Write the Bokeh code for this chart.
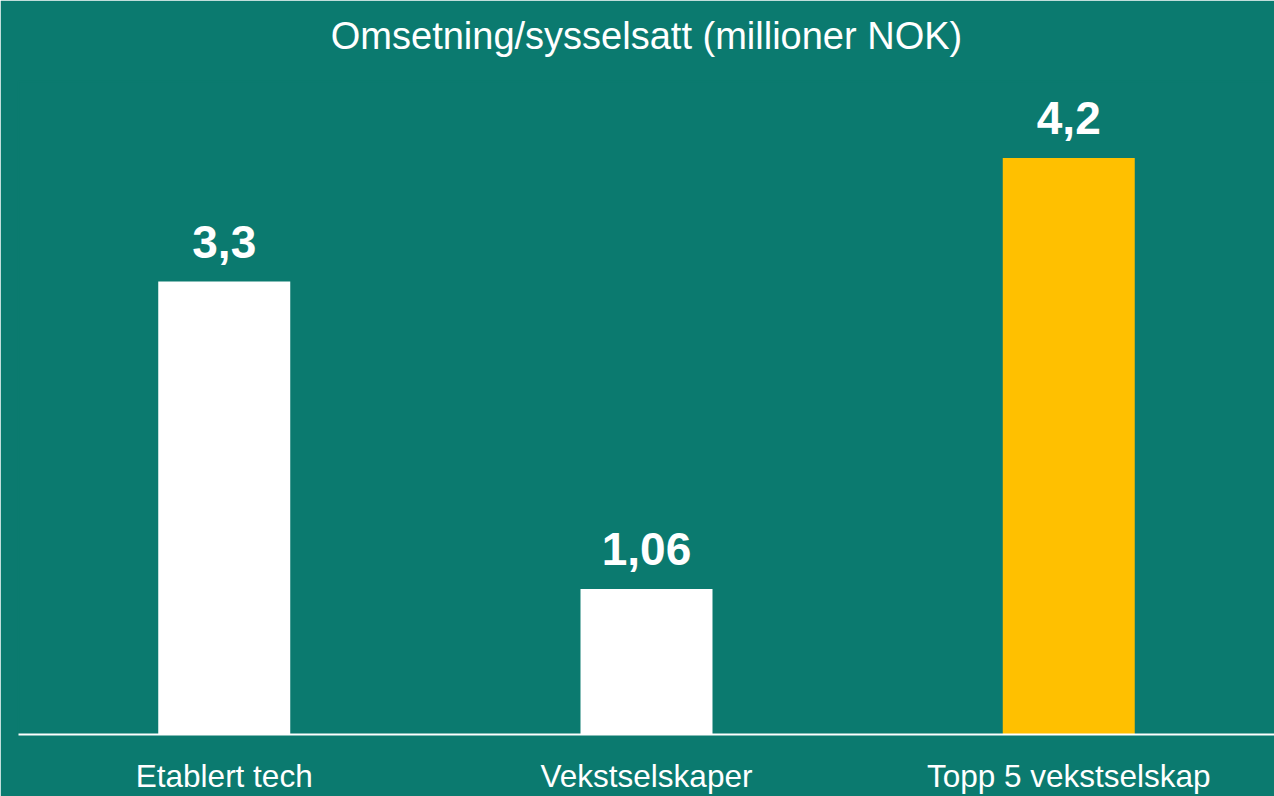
from bokeh.plotting import figure
from bokeh.models import ColumnDataSource, LabelSet, FactorRange, Range1d, Title
from bokeh.core.properties import value
from bokeh.embed import file_html
from bokeh.resources import INLINE

categories = ["Etablert tech", "Vekstselskaper", "Topp 5 vekstselskap"]
values = [3.3, 1.06, 4.2]
value_labels = ["3,3", "1,06", "4,2"]
colors = ["#FFFFFF", "#FFFFFF", "#FFC000"]

BG = "#0B7A6F"
FONT = "Liberation Sans"

src = ColumnDataSource(dict(cat=categories, val=values, lab=value_labels, col=colors))

p = figure(
    x_range=FactorRange(*categories, range_padding=-0.0085),
    y_range=Range1d(0, 4.757),
    width=1274, height=796,
    output_backend="svg", toolbar_location=None,
    title="Omsetning/sysselsatt (millioner NOK)",
    min_border_left=18, min_border_right=0, min_border_top=80, min_border_bottom=0,
)
p.background_fill_color = BG
p.border_fill_color = BG
p.outline_line_color = BG
p.outline_line_width = 2
p.grid.visible = False

p.title.align = "center"
p.title.text_font = FONT
p.title.text_font_size = "38px"
p.title.text_font_style = "normal"
p.title.text_color = "white"
p.title.standoff = 24

# spacer between title and plot area
p.add_layout(Title(text=" ", text_font_size="1px", standoff=10, text_color=BG), "above")

p.vbar(x="cat", top="val", width=0.3126, color="col", line_color=None, source=src)

labels = LabelSet(x="cat", y="val", text="lab", source=src, text_align="center",
                  text_baseline="alphabetic", y_offset=24,
                  text_font=value(FONT), text_font_size="46px", text_font_style="bold",
                  text_color="white")
p.add_layout(labels)

p.yaxis.visible = False
ax = p.xaxis[0]
ax.axis_line_color = "white"
ax.axis_line_width = 2
ax.major_tick_line_color = None
ax.minor_tick_line_color = None
ax.major_label_text_font = FONT
ax.major_label_text_font_size = "31.5px"
ax.major_label_text_color = "white"
ax.major_label_standoff = 17

open("out.html", "w").write(file_html(p, INLINE))
